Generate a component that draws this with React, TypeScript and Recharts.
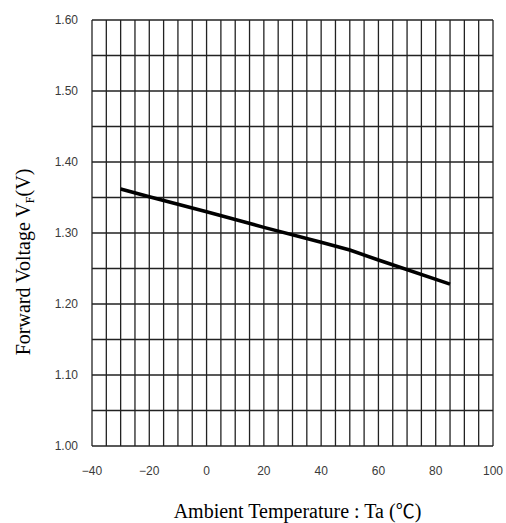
import { LineChart, Line, XAxis, YAxis, ReferenceLine } from 'recharts';

// Forward voltage vs ambient temperature
const temps = [-30, -20, 0, 20, 40, 50, 60, 85];
const vf = [1.362, 1.351, 1.33, 1.308, 1.287, 1.276, 1.262, 1.228];

const xTicks = [-40, -20, 0, 20, 40, 60, 80, 100];
const yTicks = [1.0, 1.1, 1.2, 1.3, 1.4, 1.5, 1.6];

// minor grid steps
const xGrid = Array.from({ length: 29 }, (_, i) => -40 + i * 5);
const yGrid = Array.from({ length: 13 }, (_, i) => +(1 + i * 0.05).toFixed(2));

const data = temps.map((t, i) => ({ t, vf: vf[i] }));

const tickStyle = { fontFamily: 'Liberation Sans, Arial, sans-serif', fontSize: 12, fill: '#3a3a3a' };
const serif = 'Liberation Serif, Times New Roman, serif';

const YLabel = ({ viewBox }: any) => {
  const cx = 30;
  const cy = viewBox.y + viewBox.height / 2 + 29;
  return (
    <text
      x={cx}
      y={cy}
      transform={`rotate(-90 ${cx} ${cy})`}
      textAnchor='middle'
      fontFamily={serif}
      fontSize={20}
      fill='#000'
    >
      Forward Voltage V
      <tspan fontSize={12} dy={4}>F</tspan>
      <tspan dy={-4}>(V)</tspan>
    </text>
  );
};

const XLabel = ({ viewBox }: any) => (
  <text
    x={viewBox.x + viewBox.width / 2 + 5}
    y={518}
    textAnchor='middle'
    fontFamily={serif}
    fontSize={20}
    fill='#000'
  >
    Ambient Temperature : Ta (
    <tspan fontFamily='Noto Sans CJK JP' fontSize={19}>℃</tspan>)
  </text>
);

const App = () => (
  <div style={{ position: 'absolute', left: 0, top: 0, background: '#fff' }}>
    <LineChart
      width={506}
      height={523}
      data={data}
      margin={{ top: 20, right: 13, left: 32, bottom: 47 }}
    >
      <XAxis
        dataKey='t'
        type='number'
        domain={[-40, 100]}
        ticks={xTicks}
        axisLine={false}
        tickLine={false}
        tickMargin={14}
        tick={tickStyle}
        height={30}
        tickFormatter={(v: number) => (v < 0 ? '\u2212' + Math.abs(v) : String(v))}
        label={{ content: XLabel }}
      />
      <YAxis
        type='number'
        domain={[1.0, 1.6]}
        ticks={yTicks}
        axisLine={false}
        tickLine={false}
        tickMargin={8}
        tick={tickStyle}
        width={60}
        tickFormatter={(v: number) => v.toFixed(2)}
        label={{ content: YLabel }}
      />
      {xGrid.map((x) => (
        <ReferenceLine key={'x' + x} x={x} stroke='#222' strokeWidth={1.3} />
      ))}
      {yGrid.map((y) => (
        <ReferenceLine key={'y' + y} y={y} stroke='#222' strokeWidth={1.3} />
      ))}
      <Line
        dataKey='vf'
        type='linear'
        stroke='#000'
        strokeWidth={3.5}
        dot={false}
        isAnimationActive={false}
      />
    </LineChart>
  </div>
);

export default App;
